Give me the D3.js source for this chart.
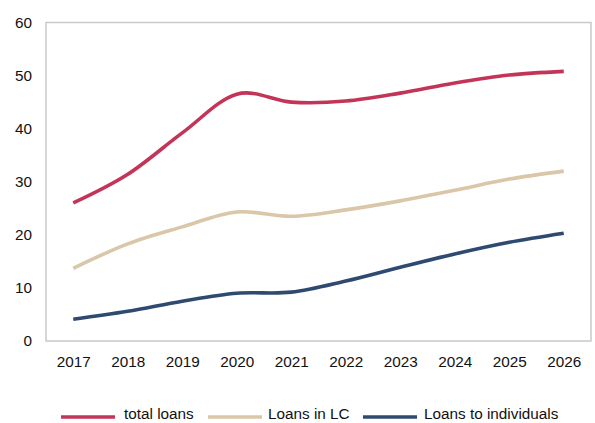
<!DOCTYPE html>
<html>
<head>
<meta charset="utf-8">
<script src="https://cdn.jsdelivr.net/npm/d3@7"></script>
<style>
  html, body { margin: 0; padding: 0; background: #fff; }
  svg { display: block; font-family: "Liberation Sans", Arial, sans-serif; }
</style>
</head>
<body>
<svg id="chart" width="595" height="423"></svg>
<script>
// Loan projections, 2017–2026
const years = ["2017", "2018", "2019", "2020", "2021", "2022", "2023", "2024", "2025", "2026"];
const totalLoans = [26.0, 31.4, 39.2, 46.5, 45.0, 45.2, 46.7, 48.6, 50.1, 50.8];
const loansLC = [13.7, 18.3, 21.5, 24.3, 23.5, 24.7, 26.4, 28.4, 30.5, 32.0];
const loansIndividuals = [4.1, 5.6, 7.5, 9.0, 9.2, 11.3, 13.9, 16.4, 18.6, 20.3];
const yTicks = [0, 10, 20, 30, 40, 50, 60];
const seriesNames = ["total loans", "Loans in LC", "Loans to individuals"];
const seriesColors = ["#c33558", "#dac6a8", "#2f4a70"];

const series = [totalLoans, loansLC, loansIndividuals].map((values, i) => ({
  name: seriesNames[i], color: seriesColors[i], values
}));

const FONT = 15.3;
const svg = d3.select("#chart");
const box = { left: 46, top: 22.5, right: 591, bottom: 341 };

const x = d3.scalePoint().domain(years).range([box.left, box.right]).padding(0.5);
const y = d3.scaleLinear().domain([0, 60]).range([box.bottom, box.top]);

// Plot frame
svg.append("rect")
  .attr("x", box.left).attr("y", box.top)
  .attr("width", box.right - box.left).attr("height", box.bottom - box.top)
  .attr("fill", "none").attr("stroke", "#c9c9c9").attr("stroke-width", 1.5);

// Y axis labels
const yAxis = d3.axisLeft(y).tickValues(yTicks).tickSize(0).tickPadding(14);
svg.append("g").attr("transform", `translate(${box.left},0)`).call(yAxis)
  .call(g => g.select(".domain").remove())
  .selectAll("text").attr("font-size", FONT).attr("fill", "#111")
  .attr("font-family", "Liberation Sans, Arial, sans-serif");

// X axis labels
const xAxis = d3.axisBottom(x).tickSize(0).tickPadding(15);
svg.append("g").attr("transform", `translate(0,${box.bottom})`).call(xAxis)
  .call(g => g.select(".domain").remove())
  .selectAll("text").attr("font-size", FONT).attr("fill", "#111")
  .attr("font-family", "Liberation Sans, Arial, sans-serif");

// Smoothed series lines
const line = d3.line()
  .x((d, i) => x(years[i]))
  .y(d => y(d))
  .curve(d3.curveCatmullRom.alpha(0));

svg.append("g").selectAll("path").data(series).join("path")
  .attr("d", d => line(d.values))
  .attr("fill", "none")
  .attr("stroke", d => d.color)
  .attr("stroke-width", 3.6)
  .attr("stroke-linecap", "butt");

// Legend
const legendItems = [
  { x: 61, textX: 124 },
  { x: 208, textX: 268 },
  { x: 363, textX: 424 }
];
const legend = svg.append("g");
series.forEach((s, i) => {
  const it = legendItems[i];
  legend.append("line")
    .attr("x1", it.x).attr("x2", it.x + 54)
    .attr("y1", 417).attr("y2", 417)
    .attr("stroke", s.color).attr("stroke-width", 3.6);
  legend.append("text")
    .attr("x", it.textX).attr("y", 418.5)
    .attr("font-size", FONT).attr("fill", "#111")
    .text(s.name);
});
</script>
</body>
</html>
